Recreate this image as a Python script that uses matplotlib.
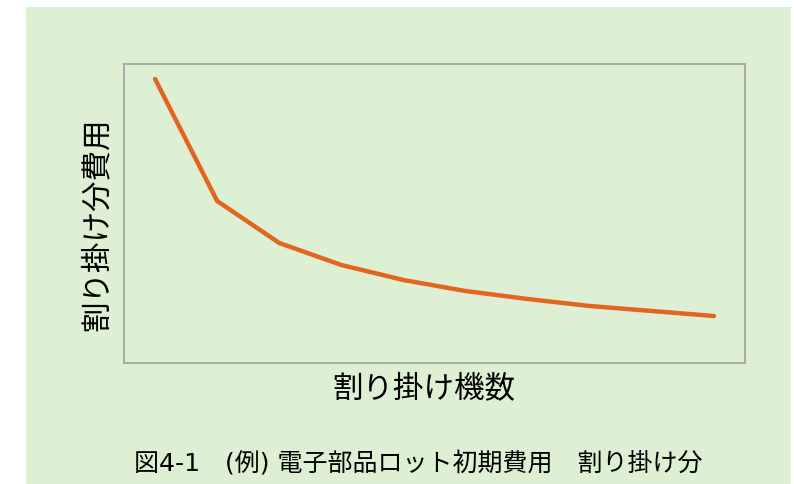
import matplotlib.pyplot as plt
from matplotlib.patches import Rectangle

plt.rcParams['font.family'] = ['DejaVu Sans', 'Noto Sans CJK JP']

# number of machines the lot cost is spread over, and the cost share (arbitrary units)
units = [1, 2, 3, 4, 5, 6, 7, 8, 9, 10]
cost_share = [284, 162, 120, 98, 83, 72, 64, 57, 52, 47]

xlabel = '割り掛け機数'
ylabel = '割り掛け分費用'
caption = '図4-1\u3000(例) 電子部品ロット初期費用\u3000割り掛け分'

W, H = 794, 484
fig = plt.figure(figsize=(W / 100, H / 100), dpi=100)
fig.patch.set_facecolor('white')

bg = '#DEF0D4'
fig.patches.append(Rectangle((26 / W, 0), (791 - 26) / W, (H - 7) / H,
                             transform=fig.transFigure, facecolor=bg,
                             edgecolor='none', zorder=-5))

ax = fig.add_axes([124 / W, 1 - 363 / H, (745 - 124) / W, (363 - 64) / H])
ax.set_zorder(1)
ax.set_facecolor(bg)
ax.plot(units, cost_share, color='#E2661F', lw=3.2, solid_capstyle='round',
        solid_joinstyle='round')

ax.set_xlim(0.5, 10.5)
ax.set_ylim(0, 299)
ax.set_xticks([])
ax.set_yticks([])
for s in ax.spines.values():
    s.set_color('#A6A6A6')
    s.set_linewidth(1.3)

fig.text(424 / W, 1 - 390 / H, xlabel, ha='center', va='center', fontsize=22)
fig.text(97 / W, 1 - 224 / H, ylabel, ha='center', va='center', fontsize=22,
         rotation=90)
fig.text(418 / W, 1 - 463 / H, caption, ha='center', va='center', fontsize=18)

fig.savefig('out.png', dpi=100)
